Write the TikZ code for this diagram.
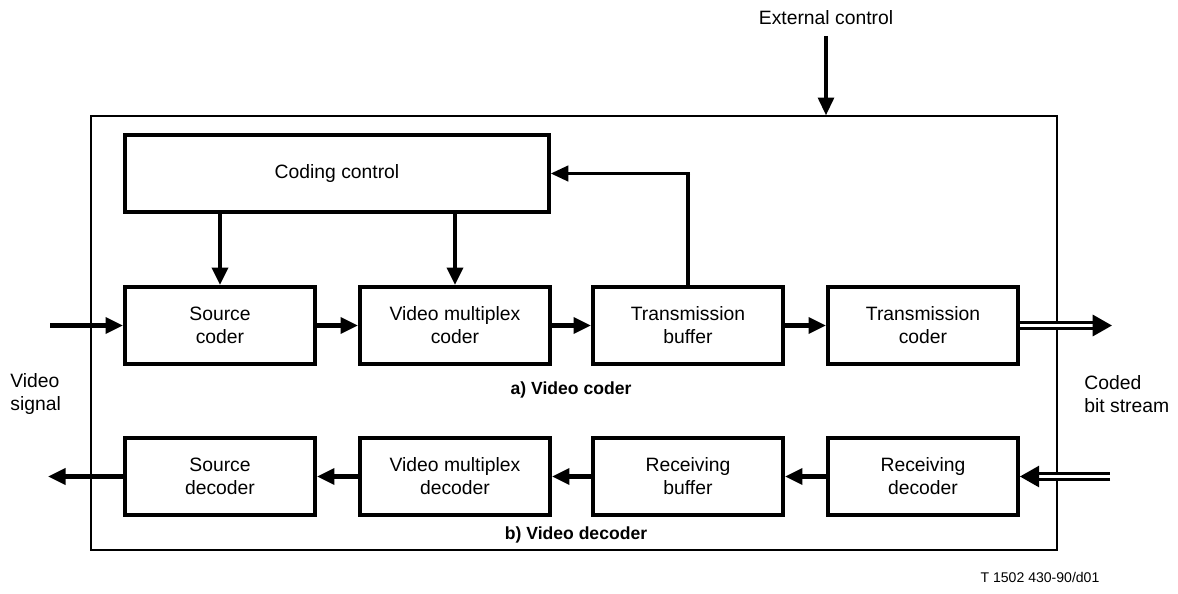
\documentclass[tikz,border=0pt]{standalone}
\usepackage{fontspec}
\setmainfont{Liberation Sans}
\usetikzlibrary{arrows.meta}
\usetikzlibrary{shapes,positioning,calc}

\tikzset{
	blk/.style={draw, line width=2.2pt, minimum width=3.8cm, minimum height=1.54cm, align=center, font=\fontsize{11}{13}\selectfont, inner sep=0pt},
	flow/.style={line width=2.4pt, -{Triangle[length=10pt,width=9pt]}},
	dflow/.style={double, line width=1.7pt, double distance=2pt, -{Triangle[length=11pt,width=12pt]}},
	lbl/.style={font=\fontsize{11}{13}\selectfont, align=left, inner sep=0pt},
	captxt/.style={font=\bfseries\fontsize{10}{12}\selectfont, inner sep=0pt}
}

\begin{document}
\begin{tikzpicture}[x=0.02cm, y=-0.02cm]
			\useasboundingbox (0,0) rectangle (1178,593);
			\node[draw, line width=0.9pt, minimum width=19.32cm, minimum height=8.68cm, inner sep=0pt] (frame) at (574,333) {};
			\node[lbl] (ext) at (826,18) {External control};
			\coordinate (extin) at (ext |- frame.north);

			% video coder
			\node[blk, minimum width=8.48cm] (cc) at (337,173.5) {Coding control};
			\node[blk] (sc) at (220,325.5) {Source\\coder};
			\node[blk] (vmc) at (455,325.5) {Video multiplex\\coder};
			\node[blk] (tb) at (688,325.5) {Transmission\\buffer};
			\node[blk] (tc) at (923,325.5) {Transmission\\coder};
			\node[captxt] (capa) at (571,390) {a) Video coder};

			% video decoder
			\node[blk] (sd) at (220,476.5) {Source\\decoder};
			\node[blk] (vmd) at (455,476.5) {Video multiplex\\decoder};
			\node[blk] (rb) at (688,476.5) {Receiving\\buffer};
			\node[blk] (rd) at (923,476.5) {Receiving\\decoder};
			\node[captxt] (capb) at (576,535) {b) Video decoder};

			\coordinate (vin) at (50,325.5);
			\coordinate (vout) at (48,476.5);
			\coordinate (bout) at (1112,325.5);
			\coordinate (bin) at (1110,476.5);
			\node[lbl, anchor=west] (vsig) at (10,394) {Video\\signal};
			\node[lbl, anchor=west] (bits) at (1084,394) {Coded\\bit stream};

			\draw[line width=1.8pt, -{Triangle[length=10pt,width=9pt]}] ([yshift=-6pt]ext.south) -- (extin);
			\draw[flow] (sc.north |- cc.south) -- (sc.north);
			\draw[flow] (vmc.north |- cc.south) -- (vmc.north);
			\draw[line width=2.4pt] (tb.north) -- (tb.north |- cc.east);
			\draw[line width=1.3pt, -{Triangle[length=10pt,width=9pt]}] ([xshift=1.2pt]tb.north |- cc.east) -- (cc.east);
			\draw[flow] (vin) -- (sc.west);
			\draw[flow] (sc) -- (vmc);
			\draw[flow] (vmc) -- (tb);
			\draw[flow] (tb) -- (tc);
			\draw[dflow] (tc.east) -- (bout);

			\draw[dflow] (bin) -- (rd.east);
			\draw[flow] (rd) -- (rb);
			\draw[flow] (rb) -- (vmd);
			\draw[flow] (vmd) -- (sd);
			\draw[flow] (sd.west) -- (vout);

			\node[font=\fontsize{8}{10}\selectfont] (tnum) at (1040,577) {T 1502 430-90/d01};
		\end{tikzpicture}
\end{document}
